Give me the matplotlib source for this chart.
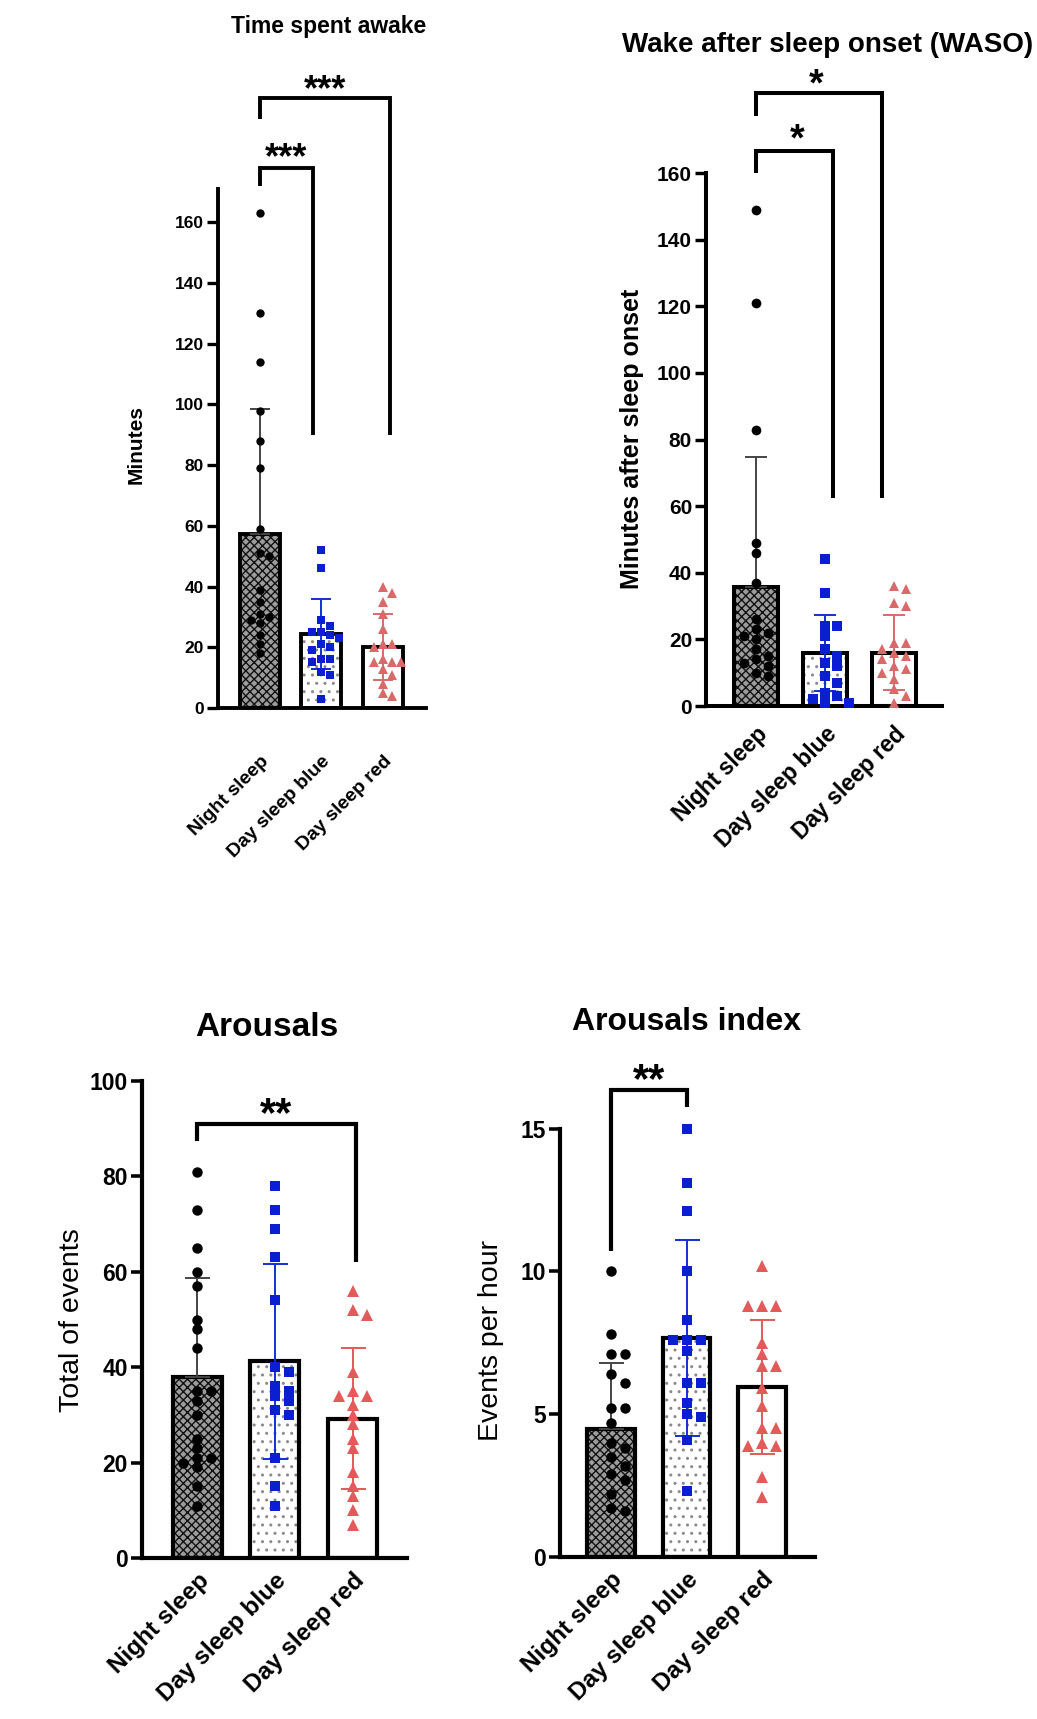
import numpy as np
import matplotlib
matplotlib.use("Agg")
import matplotlib.pyplot as plt

plt.rcParams['font.family'] = ['Liberation Sans', 'DejaVu Sans']
plt.rcParams['hatch.linewidth'] = 1.0

# ---------------- data ----------------
groups = ["Night sleep", "Day sleep blue", "Day sleep red"]

awake_night = [163, 130, 114, 98, 88, 79, 59, 51, 50, 39, 35, 31, 30, 29, 28, 24, 21, 18]
awake_blue = [52, 46, 29, 27, 25, 25, 24, 23, 21, 20, 19, 16, 16, 15, 12, 11, 3]
awake_red = [40, 38, 35, 31, 26, 21, 21, 20, 16, 15, 15, 15, 13, 11, 8, 5, 4]
awake_mean = [57.2, 24.3, 20.1]
awake_sd = [41.3, 11.6, 11.0]

waso_night = [149, 121, 83, 49, 46, 37, 26, 23, 22, 21, 20, 17, 15, 14, 13, 12, 10, 9]
waso_blue = [44, 34, 24, 24, 21, 17, 15, 13, 12, 9, 7, 4, 3, 2, 1, 1]
waso_red = [36, 35, 31, 30, 19, 19, 17, 16, 15, 14, 12, 11, 10, 8, 5, 3, 1]
waso_mean = [35.8, 15.8, 16.0]
waso_sd = [38.9, 11.4, 11.3]

ar_night = [81, 73, 65, 60, 57, 50, 48, 44, 35, 35, 33, 30, 25, 23, 21, 21, 20, 19, 15, 11]
ar_blue = [78, 73, 69, 63, 54, 40, 39, 36, 35, 34, 33, 31, 30, 21, 15, 11]
ar_red = [56, 52, 51, 39, 35, 34, 34, 32, 30, 28, 25, 23, 18, 15, 13, 10, 7]
ar_mean = [38.0, 41.2, 29.2]
ar_sd = [20.8, 20.5, 14.8]

idx_night = [10.0, 7.8, 7.1, 7.1, 6.4, 6.1, 5.2, 5.2, 4.7, 4.0, 3.8, 3.5, 3.2, 2.9, 2.7, 2.2, 1.7, 1.6]
idx_blue = [15.0, 13.1, 12.1, 10.0, 8.3, 7.6, 7.6, 7.6, 7.2, 6.1, 6.1, 5.4, 5.0, 4.9, 4.1, 2.3]
idx_red = [10.2, 8.8, 8.8, 8.8, 7.5, 7.1, 6.7, 6.7, 5.9, 5.3, 4.5, 4.5, 4.0, 3.9, 3.9, 2.8, 2.1]
idx_mean = [4.48, 7.65, 5.95]
idx_sd = [2.32, 3.43, 2.35]

# ---------------- layout ----------------
W, H = 1037, 1719
fig = plt.figure(figsize=(W / 100, H / 100), dpi=100)


def add_ax(xl, xr, yt, yb):
    return fig.add_axes([xl / W, 1 - yb / H, (xr - xl) / W, (yb - yt) / H])


def swarm_x(ax, xc, vals, diam, step):
    pts = ax.transData.transform(np.column_stack([np.full(len(vals), xc), vals]))
    ys = pts[:, 1]
    x0 = pts[0, 0]
    placed = []
    off = np.zeros(len(vals))
    for i in np.argsort(-np.asarray(vals, dtype=float), kind="stable"):
        y = ys[i]
        k = 0
        chosen = None
        while chosen is None:
            cands = [0.0] if k == 0 else [k * step, -k * step]
            for c in cands:
                if all(abs(y - py) >= diam or abs(c - px) >= step * 0.99 for px, py in placed):
                    chosen = c
                    break
            k += 1
        placed.append((chosen, y))
        off[i] = chosen
    back = ax.transData.inverted().transform(np.column_stack([x0 + off, ys]))
    return back[:, 0]


def panel(box, xlim, ylim, yticks, data, means, sds, cfg):
    ax = add_ax(*box)
    ax.set_xlim(*xlim)
    ax.set_ylim(*ylim)
    x = np.arange(3)
    bw = cfg['bw']
    lw = cfg['lw']
    # hatched fills
    ax.bar(x[0], means[0], width=bw, facecolor='#9c9c9c', edgecolor='#111111',
           hatch='xxxx', linewidth=0, zorder=1)
    ax.bar(x[1], means[1], width=bw, facecolor='white', edgecolor='#8a8a8a',
           hatch='..', linewidth=0, zorder=1)
    ax.bar(x[2], means[2], width=bw, facecolor='white', linewidth=0, zorder=1)
    # outlines
    ax.bar(x, means, width=bw, facecolor='none', edgecolor='black',
           linewidth=lw, zorder=2)
    ecol = ['#444444', '#1030d0', cfg['red']]
    for i in range(3):
        yerr = [[0], [sds[i]]] if i == 0 else sds[i]
        ax.errorbar(x[i], means[i], yerr=yerr, color=ecol[i], capsize=cfg['cap'],
                    elinewidth=cfg['elw'], capthick=cfg['elw'], zorder=3)
    mk = [('o', 'black'), ('s', '#0a1ed2'), ('^', cfg['red'])]
    for i in range(3):
        xs = swarm_x(ax, x[i], data[i], cfg['diam'], cfg['step'])
        ax.plot(xs, data[i], linestyle='none', marker=mk[i][0], color=mk[i][1],
                markersize=cfg['ms'][i], markeredgewidth=0, zorder=4, clip_on=False)
    for s in ['top', 'right']:
        ax.spines[s].set_visible(False)
    for s in ['left', 'bottom']:
        ax.spines[s].set_linewidth(lw)
    ax.set_yticks(yticks)
    ax.set_yticklabels([str(t) for t in yticks], fontsize=cfg['tfs'], fontweight='bold')
    ax.tick_params(axis='y', length=cfg['tlen'], width=lw * 0.85, pad=2)
    ax.set_xticks(x)
    ax.set_xticklabels(groups, rotation=45, ha='right', va='top', rotation_mode='anchor',
                       fontsize=cfg['xfs'], fontweight='bold')
    ax.tick_params(axis='x', length=0, pad=cfg['xpad'])
    return ax


def bracket(ax, x1, x2, ytop, yl, yr, label, ylab, fs, lw, xlab=None):
    ax.plot([x1, x1, x2, x2], [yl, ytop, ytop, yr], color='black', linewidth=lw,
            clip_on=False, solid_joinstyle='miter', solid_capstyle='butt', zorder=5)
    xm = (x1 + x2) / 2 if xlab is None else xlab
    # asterisks sit high in the em box: put the baseline below the wanted centre
    ax.annotate(label, xy=(xm, ylab), xytext=(0, -0.56 * fs), textcoords='offset points',
                ha='center', va='baseline', fontsize=fs, fontweight='bold',
                annotation_clip=False)


top_cfg1 = dict(bw=0.65, lw=2.8, cap=7, elw=1.4, red='#d86a6a', diam=7, step=9,
                ms=[6, 5.5, 6.5], tfs=12.5, xfs=14, tlen=8, xpad=32)
top_cfg2 = dict(bw=0.64, lw=2.9, cap=8, elw=1.4, red='#d86a6a', diam=8, step=12,
                ms=[7, 6.5, 7.5], tfs=15, xfs=16.5, tlen=8, xpad=12)
bot_cfg = dict(bw=0.63, lw=3.0, cap=9, elw=1.4, red='#e25a5a', diam=9, step=14,
               ms=[7.5, 7, 8], tfs=16.5, xfs=17.5, tlen=8, xpad=8)

# Panel 1: Time spent awake
ax1 = panel((218, 426, 189, 708), (-0.683, 2.70), (0, 171), list(range(0, 161, 20)),
            [awake_night, awake_blue, awake_red], awake_mean, awake_sd, top_cfg1)
bracket(ax1, 0, 2.11, 201, 194, 90, '***', 207, 26, 2.8, xlab=1.06)
bracket(ax1, 0, 0.87, 178, 172, 90, '***', 184.5, 26, 2.8, xlab=0.42)
fig.text(329 / W, 1 - 27 / H, 'Time spent awake', ha='center', va='center',
         fontsize=16.5, fontweight='bold')
fig.text(136 / W, 1 - 445 / H, 'Minutes', ha='center', va='center', rotation=90,
         fontsize=15, fontweight='bold')

# Panel 2: WASO
ax2 = panel((706, 942, 173, 706), (-0.725, 2.70), (0, 160), list(range(0, 161, 20)),
            [waso_night, waso_blue, waso_red], waso_mean, waso_sd, top_cfg2)
bracket(ax2, 0, 1.83, 184, 177, 62.5, '*', 189.5, 27, 2.9, xlab=0.88)
bracket(ax2, 0, 1.12, 166.5, 160, 62.5, '*', 173, 27, 2.9, xlab=0.6)
fig.text(828 / W, 1 - 45 / H, 'Wake after sleep onset (WASO)', ha='center', va='center',
         fontsize=20, fontweight='bold')
fig.text(632 / W, 1 - 439 / H, 'Minutes after sleep onset', ha='center', va='center',
         rotation=90, fontsize=18, fontweight='bold')

# Panel 3: Arousals
ax3 = panel((142, 407, 1081, 1558), (-0.71, 2.70), (0, 100), list(range(0, 101, 20)),
            [ar_night, ar_blue, ar_red], ar_mean, ar_sd, bot_cfg)
bracket(ax3, 0, 2.04, 91, 87.4, 62.1, '**', 95.5, 30, 3.0)
fig.text(267 / W, 1 - 1028 / H, 'Arousals', ha='center', va='center',
         fontsize=24, fontweight='bold')
fig.text(72 / W, 1 - 1320 / H, 'Total of events', ha='center', va='center',
         rotation=90, fontsize=20.5)

# Panel 4: Arousals index
ax4 = panel((560, 815, 1128.5, 1557), (-0.675, 2.70), (0, 15), [0, 5, 10, 15],
            [idx_night, idx_blue, idx_red], idx_mean, idx_sd, bot_cfg)
bracket(ax4, 0, 1.0, 16.35, 10.7, 15.75, '**', 17.1, 30, 3.0)
fig.text(686 / W, 1 - 1022 / H, 'Arousals index', ha='center', va='center',
         fontsize=23, fontweight='bold')
fig.text(491 / W, 1 - 1340 / H, 'Events per hour', ha='center', va='center',
         rotation=90, fontsize=20.5)

fig.savefig('out.png', dpi=100, facecolor='white')
